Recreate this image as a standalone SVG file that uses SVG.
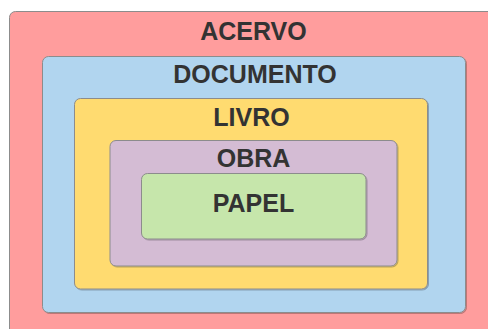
<svg xmlns="http://www.w3.org/2000/svg" width="488" height="329" viewBox="0 0 488 329">
  <style>
    .box { stroke: #8c8c8c; stroke-width: 1; filter: url(#shade); }
    .label { font-family: "Liberation Sans", Arial, sans-serif; font-weight: bold; font-size: 25px; fill: #333333; text-anchor: middle; }
  </style>
  <defs>
    <filter id="shade" x="-5%" y="-5%" width="110%" height="110%">
      <feDropShadow dx="1" dy="1" stdDeviation="0.6" flood-color="#000000" flood-opacity="0.25"/>
    </filter>
  </defs>
  <rect width="488" height="329" fill="#ffffff"/>

  <g id="acervo">
    <rect class="box" x="9.5" y="11.5" width="490" height="330" rx="6" fill="#ff9d9d"/>
    <text class="label" x="253.5" y="39.5">ACERVO</text>
  </g>

  <g id="documento">
    <rect class="box" x="42.5" y="56.5" width="423" height="256" rx="6" fill="#b1d5ef"/>
    <text class="label" x="255" y="82.5">DOCUMENTO</text>
  </g>

  <g id="livro">
    <rect class="box" x="74.5" y="98.5" width="353" height="190.5" rx="6" fill="#ffdb70"/>
    <text class="label" x="251.5" y="125.5">LIVRO</text>
  </g>

  <g id="obra">
    <rect class="box" x="110" y="140.5" width="287" height="125.5" rx="6" fill="#d4bcd4"/>
    <text class="label" x="253.5" y="166.5">OBRA</text>
  </g>

  <g id="papel">
    <rect class="box" x="141.5" y="173.5" width="224.5" height="65.5" rx="6" fill="#c6e6ab"/>
    <text class="label" x="253.5" y="211.5">PAPEL</text>
  </g>

  <g id="connectors"/>
</svg>
